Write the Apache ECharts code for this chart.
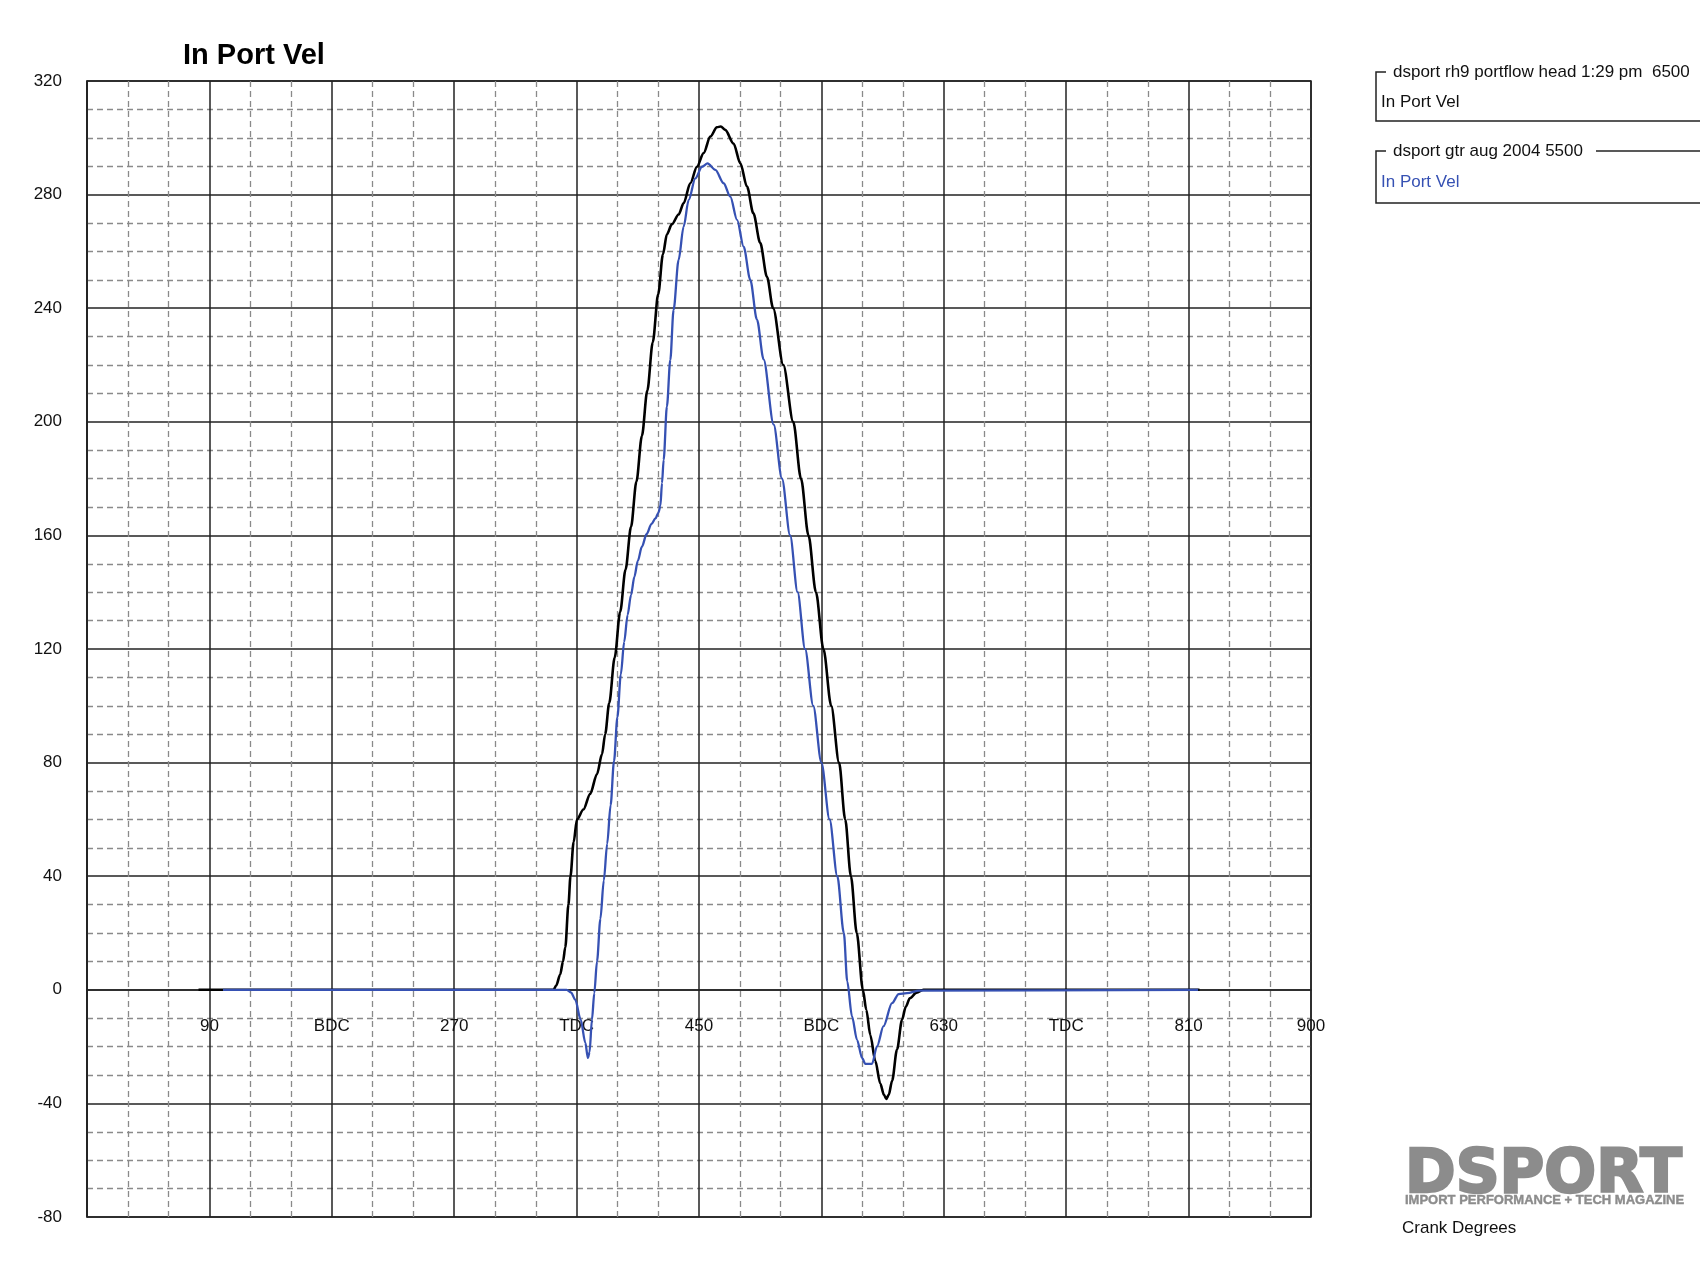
<!DOCTYPE html>
<html>
<head>
<meta charset="utf-8">
<script src="https://cdn.jsdelivr.net/npm/echarts@6/dist/echarts.min.js"></script>
<style>
html,body{margin:0;padding:0;background:#fff;}
#chart{width:1700px;height:1275px;}
</style>
</head>
<body>
<div id="chart"></div>
<script>
// ---- data ----
var chartTitle = 'In Port Vel';
var xTickLabels = ['', '90', 'BDC', '270', 'TDC', '450', 'BDC', '630', 'TDC', '810', '900'];
var seriesNames = ['dsport rh9 portflow head 1:29 pm  6500', 'dsport gtr aug 2004 5500'];
var seriesSubLabel = 'In Port Vel';
var xAxisName = 'Crank Degrees';
var yMin = -80, yMax = 320, yStep = 40;
var xMin = 0, xMax = 900, xStep = 90;

// rh9 6500 (black): crank degrees and velocity
var rh9Deg = [82, 343, 345, 348, 350, 351.7, 354, 355.5, 357.8, 360.3, 365, 370, 375, 378.7, 381, 384, 388, 392, 396, 400, 404, 408, 412, 416, 420, 423.5, 426.4, 430, 435, 438.7, 443.6, 448.5, 453.4, 458.3, 463.2, 466, 469.3, 475.4, 480.4, 485.3, 490, 495, 500, 504.5, 512, 519.3, 525, 530.5, 536, 541.5, 547.2, 553, 557.5, 561.7, 566, 570.5, 573, 576, 579.6, 583.3, 586, 587.7, 589.5, 592, 595.6, 599.3, 602, 605, 610, 615, 818];
var rh9Vel = [0, 0, 1.5, 5.5, 10, 15, 30, 40, 52, 60, 63.5, 69, 76, 83, 90, 101, 117, 133, 148, 163, 179, 195, 211, 228, 245, 259, 266, 269.5, 273, 277, 284, 289.8, 294.6, 300.4, 303.7, 304, 302.8, 298, 291, 282.8, 273.4, 263, 251, 240, 220, 200, 180, 160, 140, 120, 100, 80, 60, 40, 20, 0, -7, -16, -25, -33, -37, -38.4, -37, -32, -21, -10.6, -6, -3, -1, 0, 0];

// gtr 5500 (blue)
var gtrDeg = [100, 352.7, 356, 359, 363, 366.4, 368.3, 369.5, 371.3, 373, 375, 377.5, 380, 382.5, 385, 387.5, 390, 392.5, 395, 397.5, 400, 402.5, 405, 408, 411.5, 415, 418, 420.2, 421.6, 422.8, 424, 426.4, 428.9, 431.3, 435, 438.7, 442.4, 447.3, 452.2, 456.3, 462, 468.1, 473, 478, 482.8, 487.7, 492.6, 497.5, 504.9, 511, 517, 522.5, 528, 534, 540, 546, 551.7, 556.5, 559, 562.5, 566.2, 569.9, 572.3, 577.2, 580.9, 585.7, 591.9, 596.8, 602.9, 612, 817];
var gtrVel = [0, 0, -1, -3.5, -10.5, -18.6, -24, -22, -10.5, -1.2, 10, 25, 38.5, 51.5, 65, 80.5, 96, 111, 122.5, 132, 139, 145.5, 151, 156, 160.5, 164, 166, 168, 170.5, 178.4, 186.6, 205.4, 221.8, 239.4, 257, 268.7, 278.1, 285.7, 289.8, 291, 288.7, 284, 279.3, 271.1, 261.7, 250, 236, 222, 199, 180, 160, 140, 120, 100, 80, 60, 40, 20, 3, -9.4, -17.6, -24, -26.1, -26.1, -19.9, -12.8, -4.7, -1.5, -1.2, -0.3, 0];

function pairs(xs, ys) { return xs.map(function (x, i) { return [x, ys[i]]; }); }

var FONT = '"Liberation Sans", Arial, sans-serif';
var BLUE = '#3651b3';
var GRID_L = 87, GRID_T = 81, GRID_W = 1224, GRID_H = 1136;
// x axis sits on the zero line: shift it up from the grid bottom by the zero's distance
var xAxisOffset = -GRID_H * (0 - yMin) / (yMax - yMin);

var chart = echarts.init(document.getElementById('chart'), null, {renderer: 'canvas'});

function txt(x, y, s, size, opts) {
  opts = opts || {};
  var st = {
    x: x, y: y, text: s,
    font: (opts.weight || 'normal') + ' ' + size + 'px ' + (opts.family || FONT),
    fill: opts.color || '#111',
    textAlign: opts.align || 'left', align: opts.align || 'left',
    textVerticalAlign: 'middle', verticalAlign: 'middle'
  };
  if (opts.stroke) { st.stroke = opts.stroke; st.lineWidth = opts.strokeWidth || 1; }
  return {type: 'text', silent: true, z: 10, style: st};
}
function poly(points) {
  return {
    type: 'polyline', silent: true, z: 10,
    shape: {points: points},
    style: {stroke: '#222', lineWidth: 1.5, fill: null}
  };
}

var option = {
  backgroundColor: '#ffffff',
  animation: false,
  grid: {
    left: GRID_L, top: GRID_T, width: GRID_W, height: GRID_H,
    show: true, borderColor: '#222', borderWidth: 1.5, backgroundColor: 'transparent'
  },
  xAxis: {
    type: 'value', min: xMin, max: xMax, interval: xStep,
    position: 'bottom', offset: xAxisOffset,
    axisLine: {show: true, onZero: false, lineStyle: {color: '#222', width: 1.5}},
    axisTick: {show: false},
    axisLabel: {
      show: true, margin: 28, color: '#111', fontSize: 17, fontFamily: FONT,
      showMinLabel: true, showMaxLabel: true,
      formatter: function (v) { var i = Math.round(v / xStep); return xTickLabels[i] || ''; }
    },
    splitLine: {show: true, lineStyle: {color: '#222', width: 1.5}},
    minorTick: {show: false, splitNumber: 3},
    minorSplitLine: {show: true, lineStyle: {color: '#8a8a8a', width: 1.3, type: [6, 4]}}
  },
  yAxis: {
    type: 'value', min: yMin, max: yMax, interval: yStep,
    axisLine: {show: true, onZero: false, lineStyle: {color: '#222', width: 1.5}},
    axisTick: {show: false},
    axisLabel: {show: true, margin: 25, color: '#111', fontSize: 17, fontFamily: FONT},
    splitLine: {show: true, lineStyle: {color: '#222', width: 1.5}},
    minorTick: {show: false, splitNumber: 4},
    minorSplitLine: {show: true, lineStyle: {color: '#8a8a8a', width: 1.3, type: [6, 4]}}
  },
  series: [
    {
      name: seriesNames[0], type: 'line', data: pairs(rh9Deg, rh9Vel),
      showSymbol: false, smooth: 0.3, smoothMonotone: 'x',
      lineStyle: {color: '#000', width: 2.6}, z: 3
    },
    {
      name: seriesNames[1], type: 'line', data: pairs(gtrDeg, gtrVel),
      showSymbol: false, smooth: 0.3, smoothMonotone: 'x',
      lineStyle: {color: BLUE, width: 2.3}, z: 4
    }
  ],
  graphic: [
    txt(183, 56, chartTitle, 29, {weight: 'bold', color: '#000'}),
    // legend box 1
    poly([[1386, 72], [1376, 72], [1376, 121], [1700, 121]]),
    txt(1393, 72, seriesNames[0], 17, {color: '#111'}),
    txt(1381, 102, seriesSubLabel, 17, {color: '#111'}),
    // legend box 2
    poly([[1386, 151], [1376, 151], [1376, 203], [1700, 203]]),
    poly([[1596, 151], [1700, 151]]),
    txt(1393, 151, seriesNames[1], 17, {color: '#111'}),
    txt(1381, 182, seriesSubLabel, 17, {color: BLUE}),
    // logo
    txt(1405, 1176, 'DSPORT', 61, {weight: 'bold', family: '"DejaVu Sans", sans-serif', color: '#8c8c8c', stroke: '#8c8c8c', strokeWidth: 2.5}),
    txt(1405, 1200, 'IMPORT PERFORMANCE + TECH MAGAZINE', 13, {weight: 'bold', color: '#8c8c8c', stroke: '#8c8c8c', strokeWidth: 0.4}),
    // axis name
    txt(1402, 1228, xAxisName, 17, {color: '#111'})
  ]
};
chart.setOption(option);
</script>
</body>
</html>
